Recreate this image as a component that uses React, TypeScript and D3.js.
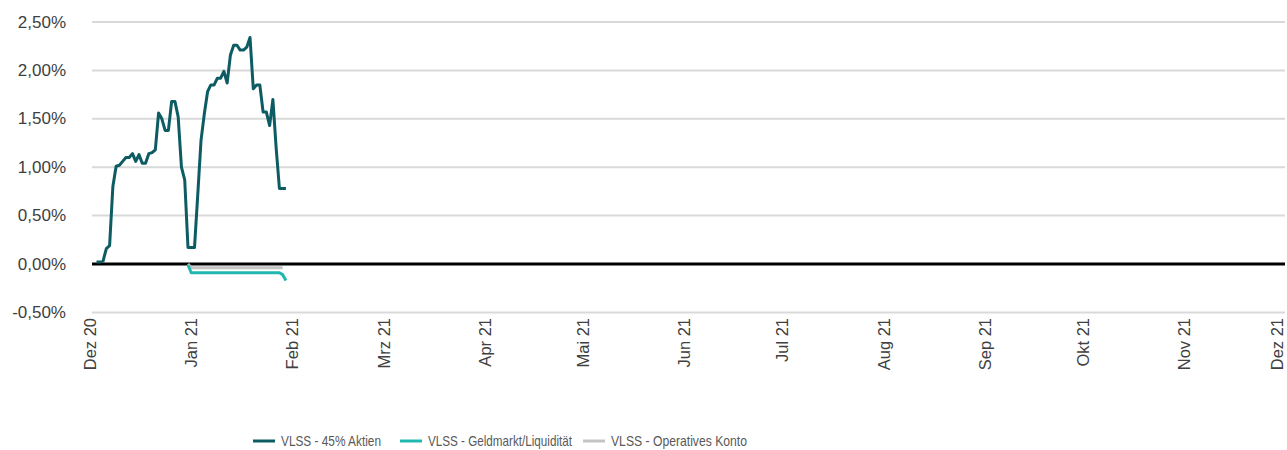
import React, { useEffect, useRef } from "react";
import * as d3 from "d3";

// Tageswerte ab 3. Dez 2020 (in %)
const startDate = new Date(2020, 11, 3);
const aktienValues = [
  0.02, 0.02, 0.03, 0.16, 0.19, 0.8, 1.01, 1.02, 1.06, 1.1, 1.1, 1.14, 1.06, 1.13, 1.04, 1.04,
  1.14, 1.15, 1.18, 1.56, 1.5, 1.38, 1.38, 1.68, 1.68, 1.52, 1.0, 0.87, 0.17, 0.17, 0.17, 0.72,
  1.28, 1.55, 1.78, 1.85, 1.85, 1.92, 1.92, 1.99, 1.87, 2.16, 2.26, 2.26, 2.21, 2.21, 2.24, 2.34,
  1.81, 1.85, 1.85, 1.57, 1.57, 1.43, 1.7, 1.2, 0.78, 0.78, 0.78,
];
// ab 31. Dez 2020
const cashStart = new Date(2020, 11, 31);
const geldmarktValues = [
  -0.01, -0.09, -0.09, -0.09, -0.09, -0.09, -0.09, -0.09, -0.09, -0.09, -0.09, -0.09, -0.09, -0.09,
  -0.09, -0.09, -0.09, -0.09, -0.09, -0.09, -0.09, -0.09, -0.09, -0.09, -0.09, -0.09, -0.09, -0.09,
  -0.09, -0.11, -0.17,
];
const kontoValues = [
  0.0, -0.04, -0.04, -0.04, -0.04, -0.04, -0.04, -0.04, -0.04, -0.04, -0.04, -0.04, -0.04, -0.04,
  -0.04, -0.04, -0.04, -0.04, -0.04, -0.04, -0.04, -0.04, -0.04, -0.04, -0.04, -0.04, -0.04, -0.04,
  -0.04, -0.04,
];

const yTicks = [-0.5, 0, 0.5, 1, 1.5, 2, 2.5];
const monthLabels = [
  "Dez 20", "Jan 21", "Feb 21", "Mrz 21", "Apr 21", "Mai 21", "Jun 21",
  "Jul 21", "Aug 21", "Sep 21", "Okt 21", "Nov 21", "Dez 21",
];
const seriesNames = ["VLSS - 45% Aktien", "VLSS - Geldmarkt/Liquidität", "VLSS - Operatives Konto"];
const seriesColors = ["#0e5c63", "#1fb8b0", "#c4c4c4"];

const App = () => {
  const ref = useRef<SVGSVGElement>(null);

  useEffect(() => {
    const width = 1287;
    const height = 450;
    const font = "'Liberation Sans', Arial, sans-serif";
    const narrow = "'Liberation Sans Narrow', 'Liberation Sans', Arial, sans-serif";

    const svg = d3.select(ref.current).attr("width", width).attr("height", height);
    svg.selectAll("*").remove();

    const x = d3
      .scaleTime()
      .domain([new Date(2020, 11, 1), new Date(2021, 11, 1)])
      .range([90, 1282]);
    const y = d3.scaleLinear().domain([-0.5, 2.5]).range([312.4, 22]);

    // Gitterlinien
    svg.append("g")
      .selectAll("line")
      .data(yTicks.filter(d => d !== 0))
      .enter()
      .append("line")
      .attr("x1", 92)
      .attr("x2", 1285)
      .attr("y1", d => y(d))
      .attr("y2", d => y(d))
      .attr("stroke", "#d9d9d9")
      .attr("stroke-width", 2);

    // Y-Beschriftung
    svg.append("g")
      .selectAll("text")
      .data(yTicks)
      .enter()
      .append("text")
      .attr("x", 66)
      .attr("y", d => y(d))
      .attr("text-anchor", "end")
      .attr("dominant-baseline", "central")
      .attr("font-family", font)
      .attr("font-size", 17)
      .attr("fill", "#404040")
      .text(d => d.toFixed(2).replace(".", ",") + "%");

    // X-Beschriftung
    const months = d3.timeMonth.range(new Date(2020, 11, 1), new Date(2021, 11, 2));
    svg.append("g")
      .selectAll("text")
      .data(months)
      .enter()
      .append("text")
      .attr("transform", d => `translate(${Math.min(x(d), 1277)},318) rotate(-90)`)
      .attr("text-anchor", "end")
      .attr("dominant-baseline", "central")
      .attr("font-family", font)
      .attr("font-size", 16.5)
      .attr("fill", "#404040")
      .text((d, i) => monthLabels[i]);

    // Nulllinie
    svg.append("line")
      .attr("x1", 92)
      .attr("x2", 1285)
      .attr("y1", y(0))
      .attr("y2", y(0))
      .attr("stroke", "#000")
      .attr("stroke-width", 3);

    const line = d3
      .line<[Date, number]>()
      .x(d => x(d[0]))
      .y(d => y(d[1]));

    const toSeries = (start: Date, vals: number[]) =>
      vals.map((v, i) => [d3.timeDay.offset(start, i), v] as [Date, number]);

    const series = [
      toSeries(startDate, aktienValues),
      toSeries(cashStart, geldmarktValues),
      toSeries(cashStart, kontoValues),
    ];

    [2, 1, 0].forEach(i => {
      svg.append("path")
        .datum(series[i])
        .attr("d", line)
        .attr("fill", "none")
        .attr("stroke", seriesColors[i])
        .attr("stroke-width", 3)
        .attr("stroke-linejoin", "round");
    });

    // Legende
    const legendX = [253, 400, 583];
    const legendW = [100, 144, 136];
    const legend = svg.append("g");
    seriesNames.forEach((name, i) => {
      legend.append("line")
        .attr("x1", legendX[i])
        .attr("x2", legendX[i] + 22)
        .attr("y1", 441)
        .attr("y2", 441)
        .attr("stroke", seriesColors[i])
        .attr("stroke-width", 3);
      legend.append("text")
        .attr("x", legendX[i] + 28)
        .attr("y", 441)
        .attr("dominant-baseline", "central")
        .attr("font-family", narrow)
        .attr("font-size", 14.5)
        .attr("textLength", legendW[i])
        .attr("lengthAdjust", "spacingAndGlyphs")
        .attr("fill", "#595959")
        .text(name);
    });
  }, []);

  return (
    <div style={{ position: "absolute", left: 0, top: 0 }}>
      <svg ref={ref}></svg>
    </div>
  );
};

export default App;
